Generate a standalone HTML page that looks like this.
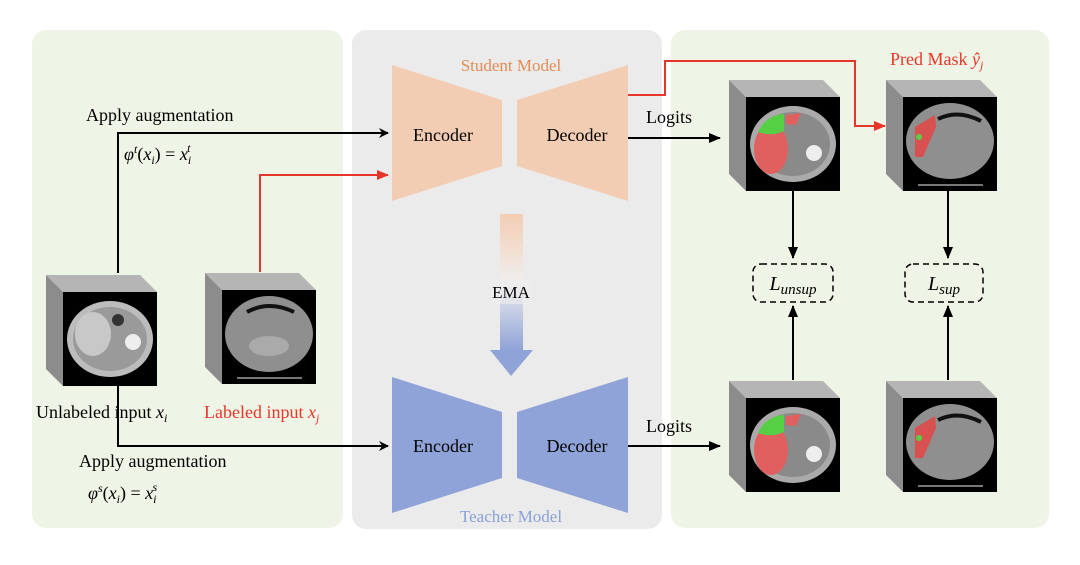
<!DOCTYPE html>
<html><head><meta charset="utf-8"><style>
html,body{margin:0;padding:0;background:#fff;}
svg{display:block;}
text{font-family:"Liberation Serif",serif;}
</style></head><body>
<svg width="1080" height="565" viewBox="0 0 1080 565" xmlns="http://www.w3.org/2000/svg">
<defs>
<linearGradient id="ema" x1="0" y1="0" x2="0" y2="1">
<stop offset="0" stop-color="#f3cdb3"/><stop offset="0.5" stop-color="#f0eeee"/><stop offset="1" stop-color="#90a3d8"/>
</linearGradient>
<marker id="ab" markerWidth="10" markerHeight="10" refX="9" refY="5" orient="auto" markerUnits="userSpaceOnUse"><path d="M0,0 L10,5 L0,10 L3,5 z" fill="#000"/></marker>
<marker id="ar" markerWidth="12" markerHeight="10" refX="11" refY="5" orient="auto" markerUnits="userSpaceOnUse"><path d="M0,0 L12,5 L0,10 z" fill="#e8352a"/></marker>
<marker id="ab2" markerWidth="12" markerHeight="10" refX="11" refY="5" orient="auto" markerUnits="userSpaceOnUse"><path d="M0,0 L12,5 L0,10 z" fill="#000"/></marker>
<g id="cube">
<polygon points="-17,-17 77,-17 94,0 0,0" fill="#b5b5b5"/>
<polygon points="-17,-17 0,0 0,94 -17,77" fill="#8c8c8c"/>
<rect x="0" y="0" width="94" height="94" fill="#000"/>
</g>
</defs>
<rect x="32" y="30" width="311" height="498" rx="14" fill="#eef4e6"/>
<rect x="352" y="30" width="310" height="499" rx="14" fill="#ebebeb"/>
<rect x="671" y="30" width="378" height="498" rx="14" fill="#eef4e6"/>

<polygon points="392,65 502,100 502,166 392,201" fill="#f3cdb3"/>
<polygon points="517,100 628,65 628,201 517,166" fill="#f3cdb3"/>
<text x="511" y="71" font-size="17" fill="#e58b53" text-anchor="middle">Student Model</text>
<text x="443" y="141" font-size="18" text-anchor="middle">Encoder</text>
<text x="577" y="141" font-size="18" text-anchor="middle">Decoder</text>
<polygon points="392,377 502,412 502,478 392,513" fill="#90a3d8"/>
<polygon points="517,412 628,377 628,513 517,478" fill="#90a3d8"/>
<text x="511" y="522" font-size="17" fill="#8aa0d8" text-anchor="middle">Teacher Model</text>
<text x="443" y="452" font-size="18" text-anchor="middle">Encoder</text>
<text x="577" y="452" font-size="18" text-anchor="middle">Decoder</text>
<rect x="500" y="214" width="23" height="136" fill="url(#ema)"/>
<polygon points="490,350 533,350 511,376" fill="#90a3d8"/>
<rect x="490" y="280" width="42" height="24" fill="#eeeeee" opacity="0.6"/>
<text x="511" y="298" font-size="17" text-anchor="middle">EMA</text>

<g transform="translate(63,292)"><use href="#cube"/>
<ellipse cx="47" cy="47" rx="43" ry="38" fill="#bcbcbc"/><ellipse cx="47" cy="47" rx="37" ry="32" fill="#9a9a9a"/><ellipse cx="30" cy="42" rx="18" ry="22" fill="#c8c8c8"/><circle cx="70" cy="50" r="8" fill="#eee"/><circle cx="55" cy="28" r="6" fill="#333"/></g>
<g transform="translate(222,290)"><use href="#cube"/>
<ellipse cx="47" cy="44" rx="44" ry="38" fill="#8f8f8f"/><path d="M25,22 Q47,10 72,22" stroke="#111" stroke-width="4" fill="none"/><ellipse cx="47" cy="56" rx="20" ry="10" fill="#aaa"/><path d="M15,88 L80,88" stroke="#777" stroke-width="2"/></g>
<text x="36" y="418" font-size="18">Unlabeled input <tspan font-style="italic">x</tspan><tspan font-style="italic" font-size="12" dy="4">i</tspan></text>
<text x="204" y="418" font-size="18" fill="#e8352a">Labeled input <tspan font-style="italic">x</tspan><tspan font-style="italic" font-size="12" dy="4">j</tspan></text>

<g transform="translate(746,97)"><use href="#cube"/>
<ellipse cx="47" cy="47" rx="43" ry="38" fill="#aaa"/><ellipse cx="47" cy="47" rx="37" ry="32" fill="#8a8a8a"/>
<ellipse cx="25" cy="52" rx="17" ry="25" fill="#e06060"/><path d="M12,35 Q20,18 38,17 L38,34 Q25,40 12,35z" fill="#55d045"/><path d="M40,18 L55,16 L50,28 L40,27z" fill="#e06060"/><circle cx="68" cy="56" r="8" fill="#eee"/></g>
<g transform="translate(903,97)"><use href="#cube"/>
<ellipse cx="47" cy="44" rx="44" ry="38" fill="#8f8f8f"/><path d="M12,30 L32,18 L33,30 L20,60 L12,60z" fill="#d85050"/><circle cx="16" cy="40" r="3" fill="#55d045"/><path d="M35,22 Q55,12 78,24" stroke="#111" stroke-width="4" fill="none"/><path d="M15,88 L80,88" stroke="#777" stroke-width="2"/></g>
<g transform="translate(746,398)"><use href="#cube"/>
<ellipse cx="47" cy="47" rx="43" ry="38" fill="#aaa"/><ellipse cx="47" cy="47" rx="37" ry="32" fill="#8a8a8a"/>
<ellipse cx="25" cy="52" rx="17" ry="25" fill="#e06060"/><path d="M12,35 Q20,18 38,17 L38,34 Q25,40 12,35z" fill="#55d045"/><path d="M40,18 L55,16 L50,28 L40,27z" fill="#e06060"/><circle cx="68" cy="56" r="8" fill="#eee"/></g>
<g transform="translate(903,398)"><use href="#cube"/>
<ellipse cx="47" cy="44" rx="44" ry="38" fill="#8f8f8f"/><path d="M12,30 L32,18 L33,30 L20,60 L12,60z" fill="#d85050"/><circle cx="16" cy="40" r="3" fill="#55d045"/><path d="M35,22 Q55,12 78,24" stroke="#111" stroke-width="4" fill="none"/><path d="M15,88 L80,88" stroke="#777" stroke-width="2"/></g>
<text x="890" y="65" font-size="18" fill="#e8352a">Pred Mask <tspan font-style="italic">ŷ</tspan><tspan font-style="italic" font-size="12" dy="4">j</tspan></text>

<g stroke="#000" stroke-width="2" fill="none">
<polyline points="118,273 118,133 388,133" marker-end="url(#ab)"/>
<polyline points="118,385 118,446 388,446" marker-end="url(#ab)"/>
<line x1="628" y1="138" x2="720" y2="138" marker-end="url(#ab2)"/>
<line x1="628" y1="446" x2="720" y2="446" marker-end="url(#ab2)"/>
<line x1="793" y1="190" x2="793" y2="258" marker-end="url(#ab2)"/>
<line x1="948" y1="190" x2="948" y2="258" marker-end="url(#ab2)"/>
<line x1="793" y1="380" x2="793" y2="306" marker-end="url(#ab2)"/>
<line x1="948" y1="380" x2="948" y2="306" marker-end="url(#ab2)"/>
</g>
<g stroke="#e8352a" stroke-width="2" fill="none">
<polyline points="260,272 260,175 388,175" marker-end="url(#ar)"/>
<polyline points="628,95 665,95 665,61 855,61 855,126 885,126" marker-end="url(#ar)"/>
</g>
<rect x="753" y="264" width="80" height="38" rx="8" fill="none" stroke="#000" stroke-width="1.5" stroke-dasharray="6,4"/>
<rect x="905" y="264" width="78" height="38" rx="8" fill="none" stroke="#000" stroke-width="1.5" stroke-dasharray="6,4"/>
<text x="793" y="290" font-size="20" font-style="italic" text-anchor="middle">L<tspan font-size="15" dy="4">unsup</tspan></text>
<text x="944" y="290" font-size="20" font-style="italic" text-anchor="middle">L<tspan font-size="15" dy="4">sup</tspan></text>

<text x="86" y="121" font-size="18">Apply augmentation</text>
<text x="124" y="160" font-size="18" font-style="italic">φ<tspan font-size="12" dy="-7">t</tspan><tspan dy="7" font-style="normal">(</tspan>x<tspan font-size="12" dy="4">i</tspan><tspan dy="-4" font-style="normal">) = </tspan>x<tspan font-size="12" dy="4">i</tspan><tspan font-size="12" dx="-4" dy="-12">t</tspan></text>
<text x="79" y="467" font-size="18">Apply augmentation</text>
<text x="88" y="499" font-size="18" font-style="italic">φ<tspan font-size="12" dy="-7">s</tspan><tspan dy="7" font-style="normal">(</tspan>x<tspan font-size="12" dy="4">i</tspan><tspan dy="-4" font-style="normal">) = </tspan>x<tspan font-size="12" dy="4">i</tspan><tspan font-size="12" dx="-4" dy="-12">s</tspan></text>
<text x="646" y="123" font-size="18">Logits</text>
<text x="646" y="432" font-size="18">Logits</text>
</svg>
</body></html>
